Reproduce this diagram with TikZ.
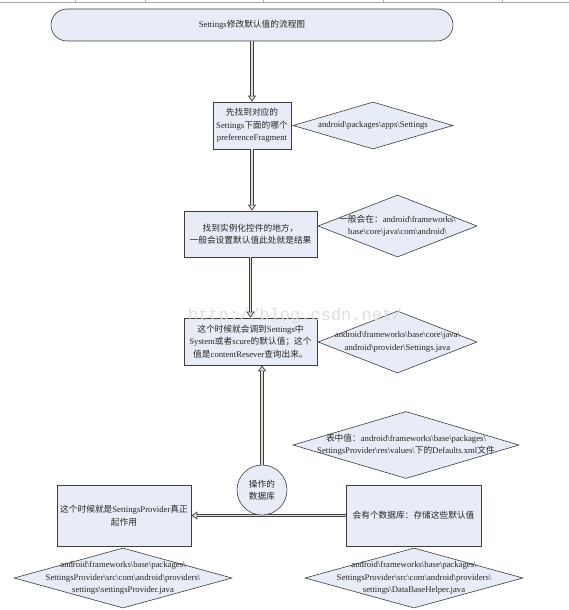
\documentclass[tikz,border=0pt]{standalone}
\usepackage{fontspec}
\setmainfont{Liberation Serif}
\newfontfamily\cjk{Noto Sans CJK SC}
\newfontfamily\wmfont{Liberation Mono}
\usetikzlibrary{shapes.geometric,arrows.meta}
\XeTeXinterchartokenstate=1
\newXeTeXintercharclass\CJKcls
\makeatletter
\count@="4E00
\loop\ifnum\count@<"A000
  \XeTeXcharclass\count@=\CJKcls
  \advance\count@ by 1
\repeat
\makeatother
\XeTeXcharclass"FF1A=\CJKcls
\XeTeXcharclass"FF0C=\CJKcls
\XeTeXcharclass"FF1B=\CJKcls
\XeTeXcharclass"3002=\CJKcls
\XeTeXinterchartoks 0 \CJKcls={\cjk}
\XeTeXinterchartoks 4095 \CJKcls={\cjk}
\XeTeXinterchartoks \CJKcls 0={\rmfamily}
\XeTeXinterchartoks \CJKcls 4095={\rmfamily}
\definecolor{boxfill}{RGB}{232,236,246}
\definecolor{boxline}{RGB}{60,60,60}
\definecolor{shaft}{RGB}{222,224,208}
\begin{document}
\begin{tikzpicture}[x=1pt,y=-1pt,
  txt/.style={font=\fontsize{8.7}{12.5}\selectfont, align=center, text=black!85, inner sep=0pt},
  base/.style={draw=boxline, fill=boxfill, line width=0.6pt, txt},
  title/.style={base, rectangle, rounded corners=16pt, minimum width=402pt, minimum height=32pt},
  box/.style={base, rectangle},
  dia/.style={base, diamond, inner sep=0pt},
  circ/.style={base, circle, minimum size=50pt},
  conn/.style={draw=black!75, line width=3.2pt,
    -{Triangle[open, fill=shaft, length=6pt, width=8pt, line width=0.7pt]},
    postaction={draw=shaft, line width=1.5pt, -, shorten >=5.5pt}},
]
\useasboundingbox (0,0) rectangle (569,610);
% grid strip at top
\draw[black!35, line width=0.8pt] (0,2) -- (569,2);
\foreach \gx in {75,145,263,383,502} \draw[black!35, line width=0.6pt] (\gx,0) -- (\gx,2);

\node[title] (t) at (252,25) {Settings修改默认值的流程图};

\node[box, minimum width=78pt, minimum height=47pt] (b1) at (252,125.5)
  {先找到对应的\\Settings下面的哪个\\preferenceFragment};
\node[dia, minimum width=160pt, minimum height=47pt,
  label={[txt]center:android\textbackslash packages\textbackslash apps\textbackslash Settings}] (d1) at (373,125.5) {};

\node[box, minimum width=133pt, minimum height=46pt] (b2) at (250.5,234)
  {找到实例化控件的地方，\\一般会设置默认值此处就是结果};
\node[dia, minimum width=159pt, minimum height=62pt,
  label={[txt]center:一般会在：android\textbackslash frameworks\textbackslash\\base\textbackslash core\textbackslash java\textbackslash com\textbackslash android\textbackslash}] (d2) at (397.5,226) {};

\node[box, minimum width=133pt, minimum height=47pt] (b3) at (250.5,341.5)
  {这个时候就会调到Settings中\\System或者scure的默认值；这个\\值是contentResever查询出来。};
\node[dia, minimum width=159pt, minimum height=62pt,
  label={[txt]center:android\textbackslash frameworks\textbackslash base\textbackslash core\textbackslash java\textbackslash\\android\textbackslash provider\textbackslash Settings.java}] (d3) at (397.5,342) {};

\node[dia, minimum width=226pt, minimum height=67pt,
  label={[txt]center:表中值：android\textbackslash frameworks\textbackslash base\textbackslash packages\textbackslash\\SettingsProvider\textbackslash res\textbackslash values\textbackslash 下的Defaults.xml文件}] (d4) at (406,445) {};

\node[box, minimum width=134pt, minimum height=61pt] (b4) at (124,515.5)
  {这个时候就是SettingsProvider真正\\起作用};
\node[box, minimum width=135pt, minimum height=61pt] (b5) at (413.5,515.5)
  {会有个数据库：存储这些默认值};

\draw[conn] (b5.west) -- (b4.east);
\node[circ] (c) at (262,490) {操作的\\数据库};

\node[dia, minimum width=218pt, minimum height=60pt,
  label={[txt]center:android\textbackslash frameworks\textbackslash base\textbackslash packages\textbackslash\\SettingsProvider\textbackslash src\textbackslash com\textbackslash android\textbackslash providers\textbackslash\\settings\textbackslash settingsProvider.java}] (d5) at (123,578) {};
\node[dia, minimum width=218pt, minimum height=60pt,
  label={[txt]center:android\textbackslash frameworks\textbackslash base\textbackslash packages\textbackslash\\SettingsProvider\textbackslash src\textbackslash com\textbackslash android\textbackslash providers\textbackslash\\settings\textbackslash DataBaseHelper.java}] (d6) at (414,578) {};

\draw[conn] (t.south) -- (b1.north);
\draw[conn] (b1.south) -- (b2.north -| b1.south);
\draw[conn] (b2.south) -- (b3.north);
\draw[conn] (c.north) -- (c.north |- b3.south);

\node[anchor=base west, inner sep=0pt, font=\wmfont\fontsize{17}{17}\selectfont, text=black!14, opacity=0.9] (wm) at (188,320) {http://blog.csdn.net/};
\end{tikzpicture}
\end{document}
